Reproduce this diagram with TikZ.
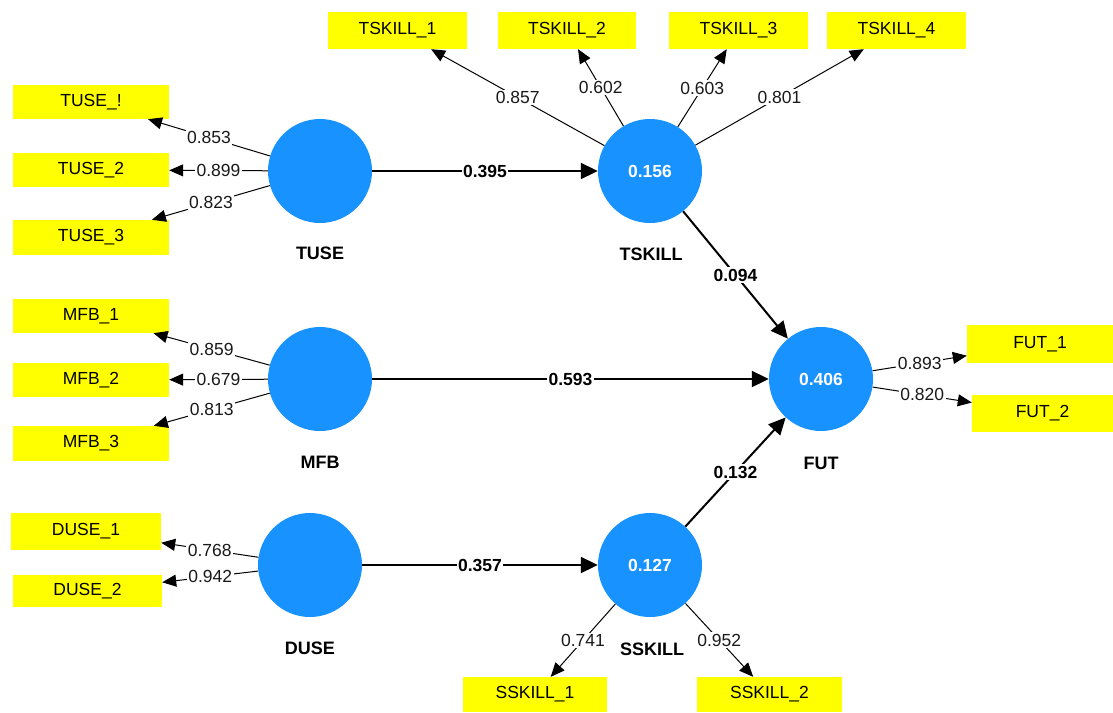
\documentclass[tikz,border=0pt]{standalone}
\usepackage{fontspec}
\setmainfont{Liberation Sans}
\usetikzlibrary{arrows.meta}
\definecolor{lvblue}{RGB}{24,146,255}
\definecolor{mvyellow}{RGB}{255,255,0}
\tikzset{
  latent/.style={circle,fill=lvblue,minimum size=104pt,inner sep=0pt,
    text=white,font=\fontsize{17.5}{20}\selectfont\bfseries},
  lvname/.style={font=\fontsize{18}{20}\selectfont\bfseries,text=black},
  indicator/.style={rectangle,fill=mvyellow,inner sep=0pt,
    font=\fontsize{17.5}{20}\selectfont,text=black},
  meas/.style={line width=1pt,-{Triangle[length=14pt,width=12pt]}},
  struct/.style={line width=2pt,-{Triangle[length=17pt,width=16pt]}},
  wlab/.style={fill=white,inner sep=1.5pt,font=\fontsize{17.5}{20}\selectfont,text=black!90},
  plab/.style={fill=white,inner sep=1.5pt,font=\fontsize{17.5}{20}\selectfont\bfseries,text=black}
}
\begin{document}
\begin{tikzpicture}[x=1pt,y=-1pt]
\useasboundingbox (0,0) rectangle (1113,712);

% latent variables
\node[latent] (tuse)   at (320,171) {};
\node[latent] (mfb)    at (320,379) {};
\node[latent] (duse)   at (310,565) {};
\node[latent] (tskill) at (650,171) {0.156};
\node[latent] (fut)    at (821,379) {0.406};
\node[latent] (sskill) at (650,565) {0.127};

\node[lvname] (tuse-n)   at (320,253) {TUSE};
\node[lvname] (mfb-n)    at (320,462) {MFB};
\node[lvname] (duse-n)   at (310,648) {DUSE};
\node[lvname] (tskill-n) at (651,254) {TSKILL};
\node[lvname] (fut-n)    at (821,463) {FUT};
\node[lvname] (sskill-n) at (652,649) {SSKILL};

% indicators
\node[indicator,minimum width=156pt,minimum height=34pt] (tuse1) at (91,102)   {TUSE\_!};
\node[indicator,minimum width=156pt,minimum height=34pt] (tuse2) at (91,170)   {TUSE\_2};
\node[indicator,minimum width=156pt,minimum height=35pt] (tuse3) at (91,237.5) {TUSE\_3};

\node[indicator,minimum width=156pt,minimum height=34pt] (mfb1) at (91,316)   {MFB\_1};
\node[indicator,minimum width=156pt,minimum height=34pt] (mfb2) at (91,380)   {MFB\_2};
\node[indicator,minimum width=156pt,minimum height=35pt] (mfb3) at (91,443.5) {MFB\_3};

\node[indicator,minimum width=150pt,minimum height=37pt] (duse1) at (86,531.5)  {DUSE\_1};
\node[indicator,minimum width=149pt,minimum height=32pt] (duse2) at (87.5,591) {DUSE\_2};

\node[indicator,minimum width=139pt,minimum height=37pt] (tskill1) at (397.5,30.5) {TSKILL\_1};
\node[indicator,minimum width=138pt,minimum height=37pt] (tskill2) at (567,30.5)   {TSKILL\_2};
\node[indicator,minimum width=139pt,minimum height=37pt] (tskill3) at (738.5,30.5) {TSKILL\_3};
\node[indicator,minimum width=139pt,minimum height=37pt] (tskill4) at (896.5,30.5) {TSKILL\_4};

\node[indicator,minimum width=146pt,minimum height=38pt] (fut1) at (1040,344)   {FUT\_1};
\node[indicator,minimum width=141pt,minimum height=37pt] (fut2) at (1042.5,413.5) {FUT\_2};

\node[indicator,minimum width=144pt,minimum height=35pt] (sskill1) at (535,694.5) {SSKILL\_1};
\node[indicator,minimum width=145pt,minimum height=35pt] (sskill2) at (769.5,694.5) {SSKILL\_2};

% outer loadings
\draw[meas] (tuse) -- node[wlab]{0.853} (tuse1);
\draw[meas] (tuse) -- node[wlab]{0.899} (tuse2);
\draw[meas] (tuse) -- node[wlab]{0.823} (tuse3);

\draw[meas] (mfb) -- node[wlab]{0.859} (mfb1);
\draw[meas] (mfb) -- node[wlab]{0.679} (mfb2);
\draw[meas] (mfb) -- node[wlab]{0.813} (mfb3);

\draw[meas] (duse) -- node[wlab]{0.768} (duse1);
\draw[meas] (duse) -- node[wlab]{0.942} (duse2);

\draw[meas] (tskill) -- node[wlab]{0.857} (tskill1);
\draw[meas] (tskill) -- node[wlab]{0.602} (tskill2);
\draw[meas] (tskill) -- node[wlab]{0.603} (tskill3);
\draw[meas] (tskill) -- node[wlab]{0.801} (tskill4);

\draw[meas] (fut) -- node[wlab]{0.893} (fut1);
\draw[meas] (fut) -- node[wlab]{0.820} (fut2);

\draw[meas] (sskill) -- node[wlab]{0.741} (sskill1);
\draw[meas] (sskill) -- node[wlab]{0.952} (sskill2);

% path coefficients
\draw[struct] (tuse) -- node[plab]{0.395} (tskill);
\draw[struct] (mfb) -- node[plab]{0.593} (fut);
\draw[struct] (duse) -- node[plab]{0.357} (sskill);
\draw[struct] (tskill) -- node[plab]{0.094} (fut);
\draw[struct] (sskill) -- node[plab]{0.132} (fut);
\end{tikzpicture}
\end{document}
